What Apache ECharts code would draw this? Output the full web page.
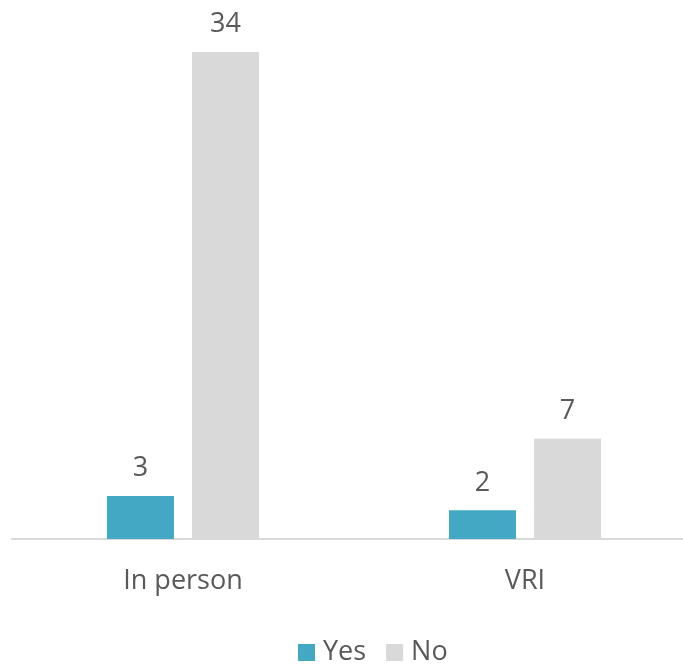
<!DOCTYPE html>
<html>
<head>
<meta charset="utf-8">
<script src="https://cdn.jsdelivr.net/npm/echarts@6/dist/echarts.min.js"></script>
<style>
html,body{margin:0;padding:0;background:#fff;}
#chart{width:683px;height:668px;}
</style>
</head>
<body>
<div id="chart"></div>
<script>
var categories = ["In person", "VRI"];
var yesValues = [3, 2];
var noValues = [34, 7];
var seriesNames = ["Yes", "No"];

var chart = echarts.init(document.getElementById('chart'));
var font = '"Open Sans", "Noto Sans", sans-serif';
var labelStyle = {
  show: true, position: 'top', distance: 14,
  color: '#595959', fontSize: 27, fontFamily: font
};
chart.setOption({
  animation: false,
  textStyle: { fontFamily: font },
  grid: { left: 12, width: 684, top: 52, bottom: 129, containLabel: false, outerBoundsMode: 'none' },
  legend: {
    data: seriesNames,
    bottom: 2, left: 298, padding: 0,
    itemWidth: 17, itemHeight: 17, itemGap: 20,
    icon: 'rect',
    textStyle: { color: '#595959', fontSize: 27, fontFamily: font, padding: [0, 0, 0, 3] }
  },
  xAxis: {
    type: 'category',
    data: categories,
    axisLine: { lineStyle: { color: '#D9D9D9', width: 2 } },
    axisTick: { show: false },
    axisLabel: { color: '#595959', fontSize: 27, margin: 29, fontFamily: font }
  },
  yAxis: {
    type: 'value', min: 0, max: 34,
    show: false,
    splitLine: { show: false }
  },
  series: [
    { name: seriesNames[0], type: 'bar', data: yesValues, barWidth: 67, barGap: '27%',
      itemStyle: { color: '#42A8C3' }, label: labelStyle },
    { name: seriesNames[1], type: 'bar', data: noValues, barWidth: 67,
      itemStyle: { color: '#D9D9D9' }, label: labelStyle }
  ]
});
</script>
</body>
</html>
